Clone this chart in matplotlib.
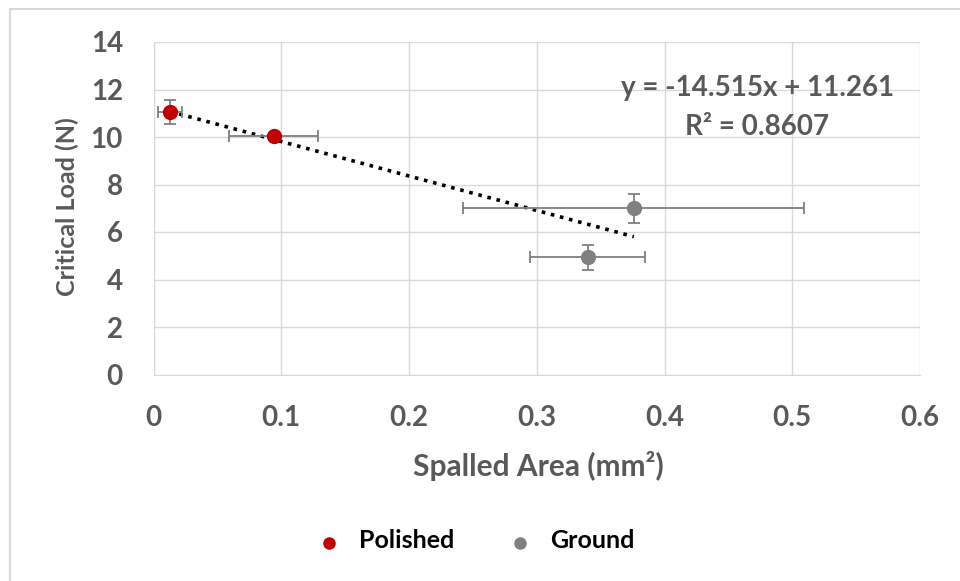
import matplotlib
matplotlib.use("Agg")
import matplotlib.pyplot as plt
import numpy as np
from matplotlib.lines import Line2D

# Data
polished_x = [0.013, 0.094]
polished_y = [11.05, 10.05]
polished_xerr = [0.0095, 0.035]
polished_yerr = [0.5, 0.0]

ground_x = [0.376, 0.340]
ground_y = [7.0, 4.93]
ground_xerr = [0.1335, 0.045]
ground_yerr = [0.6, 0.54]

slope = -14.515
intercept = 11.261
r2 = 0.8607

x_ticks = [0, 0.1, 0.2, 0.3, 0.4, 0.5, 0.6]
x_ticklabels = ["0", "0.1", "0.2", "0.3", "0.4", "0.5", "0.6"]
y_ticks = [0, 2, 4, 6, 8, 10, 12, 14]
series_names = ["Polished", "Ground"]
series_colors = ["#c00000", "#808080"]

plt.rcParams['font.family'] = ['Lato', 'DejaVu Sans']

fig = plt.figure(figsize=(9.6, 5.81), dpi=100)
W, H = 960, 581
# outer border
fig.patches.append(plt.Rectangle((10 / W, -0.01), 1.0, 1 - 9 / H + 0.01,
                                 transform=fig.transFigure, fill=False,
                                 edgecolor='#d9d9d9', linewidth=1.5))

ax = fig.add_axes([153.5 / W, 1 - 374.5 / H, (920 - 153.5) / W, (374.5 - 42) / H])
ax.set_xlim(0, 0.6)
ax.set_ylim(0, 14)
ax.set_xticks(x_ticks)
ax.set_xticklabels(x_ticklabels)
ax.set_yticks(y_ticks)
ax.grid(True, color='#d9d9d9', linewidth=1.0)
ax.set_axisbelow(True)
for s in ax.spines.values():
    s.set_visible(False)
ax.spines['bottom'].set_visible(True)
ax.spines['bottom'].set_color('#d9d9d9')
ax.spines['left'].set_visible(True)
ax.spines['left'].set_color('#d9d9d9')
ax.tick_params(length=0, labelsize=20, labelcolor='#595959')
ax.tick_params(axis='x', pad=22)
ax.tick_params(axis='y', pad=22)
for lbl in ax.get_xticklabels() + ax.get_yticklabels():
    lbl.set_fontweight('bold')

# trendline
all_x = polished_x + ground_x
tx = np.array([min(all_x), max(all_x)])
ax.plot(tx, slope * tx + intercept, linestyle=(0, (1, 1.6)), color='black',
        linewidth=2.6, zorder=2)

ax.errorbar(polished_x, polished_y, xerr=polished_xerr, yerr=polished_yerr,
            fmt='o', color=series_colors[0], markersize=10, ecolor='#7f7f7f',
            elinewidth=1.3, capsize=4.5, capthick=1.3, zorder=3)
ax.errorbar(ground_x, ground_y, xerr=ground_xerr, yerr=ground_yerr,
            fmt='o', color=series_colors[1], markersize=10, ecolor='#7f7f7f',
            elinewidth=1.3, capsize=4.5, capthick=1.3, zorder=3)

fig.text(757.5 / W, 1 - 88 / H, f"y = {slope}x + {intercept}", ha='center', va='center',
         fontsize=20, fontweight='bold', color='#595959')
fig.text(757.5 / W, 1 - 127 / H, f"R² = {r2}", ha='center', va='center',
         fontsize=20, fontweight='bold', color='#595959')

fig.text(538 / W, 1 - 466 / H, "Spalled Area (mm²)", ha='center', va='center',
         fontsize=21.5, fontweight='bold', color='#595959')
fig.text(67 / W, 1 - 207 / H, "Critical Load (N)", ha='center', va='center', rotation=90,
         fontsize=18, fontweight='bold', color='#595959')

# legend (manual placement)
leg_marker_x = [329, 520]
leg_text_x = [359, 550]
for name, col, mx, tx_ in zip(series_names, series_colors, leg_marker_x, leg_text_x):
    fig.add_artist(Line2D([mx / W], [1 - 543 / H], marker='o', linestyle='none',
                          color=col, markersize=8, transform=fig.transFigure))
    fig.text(tx_ / W, 1 - 541 / H, name, ha='left', va='center',
             fontsize=18, fontweight='bold', color='black')

fig.savefig("out.png", dpi=100)
